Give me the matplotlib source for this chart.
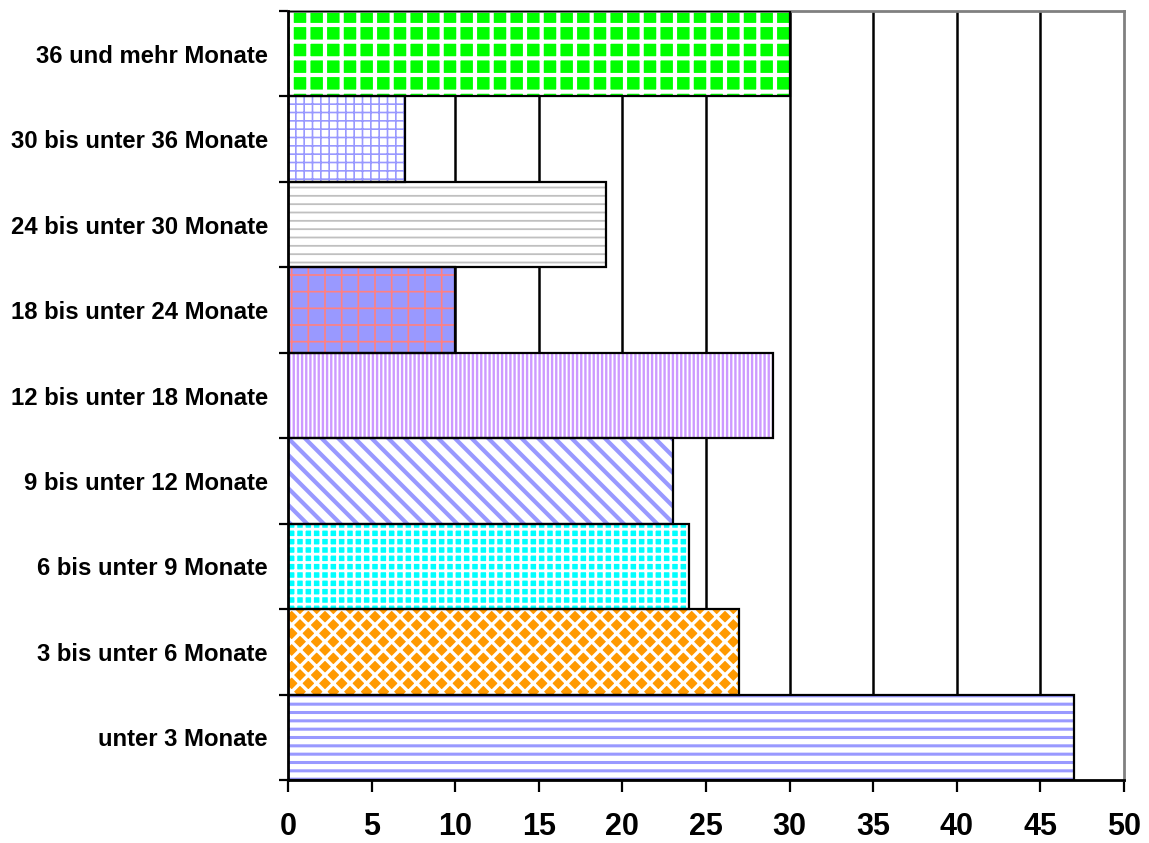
import matplotlib
matplotlib.use("Agg")
import matplotlib.pyplot as plt
import numpy as np

categories = ["unter 3 Monate", "3 bis unter 6 Monate", "6 bis unter 9 Monate",
              "9 bis unter 12 Monate", "12 bis unter 18 Monate", "18 bis unter 24 Monate",
              "24 bis unter 30 Monate", "30 bis unter 36 Monate", "36 und mehr Monate"]
values = [47, 27, 24, 23, 29, 10, 19, 7, 30]

# (facecolor, hatch, hatchcolor, hatch linewidth in pt)
styles = [
    ("white", "--", "#9999ff", 2.2),
    ("#ff9900", "xx", "white", 2.4),
    ("#00ffff", "++", "white", 2.0),
    ("white", "\\\\", "#9999ff", 3.0),
    ("white", "||||", "#cc99ff", 1.7),
    ("#9999ff", "+", "#ff8080", 1.2),
    ("white", "--", "#c0c0c0", 1.3),
    ("white", "++", "#9999ff", 1.2),
    ("#00ff00", "+", "white", 3.0),
]

plt.rcParams['font.family'] = ['Liberation Sans', 'DejaVu Sans']
fig = plt.figure(figsize=(11.49, 8.43), dpi=100)
ax = fig.add_axes([288/1149, 1-780/843, (1124-288)/1149, (780-11)/843])

y = np.arange(len(categories))
for i, (v, st) in enumerate(zip(values, styles)):
    fc, h, hc, lw = st
    plt.rcParams['hatch.linewidth'] = lw
    ax.barh(y[i], v, height=1.0, color=fc, edgecolor=hc, hatch=h, linewidth=0, zorder=2)
    ax.barh(y[i], v, height=1.0, fill=False, edgecolor="black", linewidth=1.6, zorder=3)

ax.set_xlim(0, 50)
ax.set_ylim(-0.5, len(categories) - 0.5)
ax.set_xticks(np.arange(0, 51, 5))
ax.set_xticklabels([str(t) for t in range(0, 51, 5)], fontsize=22, fontweight='bold')
ax.set_yticks(y)
ax.set_yticklabels(categories, fontsize=17.2, fontweight='bold')
ax.set_yticks(np.arange(-0.5, len(categories), 1.0), minor=True)
ax.tick_params(axis='y', which='major', length=0, pad=14.4)
ax.tick_params(axis='y', which='minor', length=6.7, width=1.6, direction='out')
ax.tick_params(axis='x', which='major', length=8.6, width=1.6, direction='out', pad=14.5)

for gx in range(5, 50, 5):
    ax.axvline(gx, color='black', linewidth=1.8, zorder=1)

for s in ['left', 'bottom']:
    ax.spines[s].set_linewidth(2)
    ax.spines[s].set_color('black')
    ax.spines[s].set_zorder(4)
for s in ['top', 'right']:
    ax.spines[s].set_linewidth(2)
    ax.spines[s].set_color('#808080')

fig.savefig("out.png", dpi=100)
